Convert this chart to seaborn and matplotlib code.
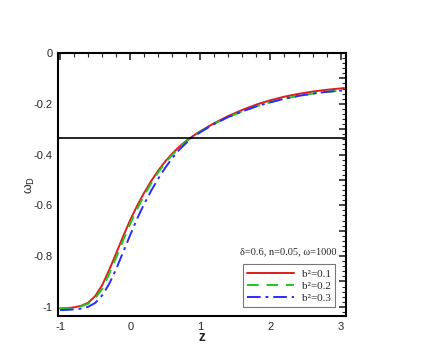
import numpy as np
import pandas as pd
import seaborn as sns
import matplotlib.pyplot as plt
from matplotlib.ticker import MultipleLocator, FuncFormatter

# values
z = [-1.0, -0.9, -0.8, -0.7, -0.6, -0.5, -0.4, -0.3, -0.2, -0.1, 0.0, 0.1, 0.2,
     0.3, 0.4, 0.5, 0.6, 0.7, 0.8, 0.9, 1.0, 1.2, 1.4, 1.6, 1.8, 2.0, 2.2, 2.4,
     2.6, 2.8, 3.05]
w_b01 = [-1.006, -1.005, -1.002, -0.996, -0.984, -0.958, -0.915, -0.855, -0.789,
         -0.722, -0.658, -0.601, -0.55, -0.504, -0.463, -0.427, -0.396, -0.369,
         -0.346, -0.326, -0.308, -0.276, -0.248, -0.224, -0.203, -0.186, -0.172,
         -0.161, -0.152, -0.145, -0.138]
w_b02 = [-1.008, -1.006, -1.004, -0.998, -0.988, -0.966, -0.93, -0.871, -0.806,
         -0.738, -0.673, -0.614, -0.561, -0.513, -0.47, -0.433, -0.401, -0.373,
         -0.349, -0.328, -0.31, -0.279, -0.252, -0.23, -0.21, -0.194, -0.18,
         -0.169, -0.16, -0.153, -0.147]
w_b03 = [-1.013, -1.012, -1.01, -1.007, -1.0, -0.985, -0.955, -0.91, -0.851,
         -0.784, -0.717, -0.652, -0.594, -0.542, -0.495, -0.452, -0.414, -0.381,
         -0.354, -0.331, -0.312, -0.279, -0.252, -0.23, -0.21, -0.194, -0.18,
         -0.169, -0.16, -0.153, -0.147]
labels = ["b\u00b2=0.1", "b\u00b2=0.2", "b\u00b2=0.3"]
w_line = -1.0 / 3.0

sns.set_style("white")
plt.rcParams['font.family'] = ['Liberation Sans', 'DejaVu Sans']

fig = plt.figure(figsize=(4.36, 3.57), dpi=100)
ax = fig.add_axes([0.133, 0.115, 0.661, 0.7365])

series = [w_b01, w_b02, w_b03]
colors = ["#dd1c1c", "#1ec81e", "#2a2aff"]
styles = ["-", (0, (6, 4)), (0, (7, 2.5, 1.5, 2.5))]
for vals, lab, col, ls in zip(series, labels, colors, styles):
    df = pd.DataFrame({"z": z, "w": vals})
    sns.lineplot(data=df, x="z", y="w", ax=ax, color=col, linestyle=ls,
                 linewidth=1.4, label=lab)

ax.axhline(w_line, color="black", linewidth=1.2)

ax.set_xlim(-1.03, 3.08)
ax.set_ylim(-1.036, 0)
ax.xaxis.set_major_locator(MultipleLocator(1))
ax.xaxis.set_minor_locator(MultipleLocator(0.2))
ax.yaxis.set_major_locator(MultipleLocator(0.1))
ax.yaxis.set_minor_locator(MultipleLocator(0.02))


def yfmt(v, pos):
    k = int(round(v * 10))
    if k % 2 != 0:
        return ""
    if k == 0:
        return "0"
    return "%g" % (k / 10)


ax.yaxis.set_major_formatter(FuncFormatter(yfmt))
ax.xaxis.set_major_formatter(FuncFormatter(lambda v, p: "%d" % round(v)))
ax.tick_params(which="both", direction="in", top=True, right=True,
               labelsize=8, pad=4)
ax.tick_params(which="major", length=5, width=1.2)
ax.tick_params(which="minor", length=3, width=0.8)
for sp in ax.spines.values():
    sp.set_linewidth(1.5)
    sp.set_color("black")

ax.set_xlabel("z", fontsize=10, fontweight="bold", labelpad=-1)
ax.set_ylabel("\u03c9$_\\mathrm{D}$", fontsize=9, labelpad=-3)

leg = ax.legend(loc="lower right", bbox_to_anchor=(0.962, 0.034),
                borderaxespad=0,
                prop={"family": "Liberation Serif", "size": 8},
                handlelength=4.2, handletextpad=0.7, labelspacing=0.2,
                borderpad=0.4, fancybox=False, framealpha=1)
leg.get_frame().set_edgecolor("#777777")
leg.get_frame().set_linewidth(0.8)
ax.text(0.965, 0.228, "\u03b4=0.6, n=0.05, \u03c9=1000", transform=ax.transAxes,
        ha="right", va="bottom", fontsize=7.5, family="Liberation Serif")

fig.savefig("out.png", dpi=100)
